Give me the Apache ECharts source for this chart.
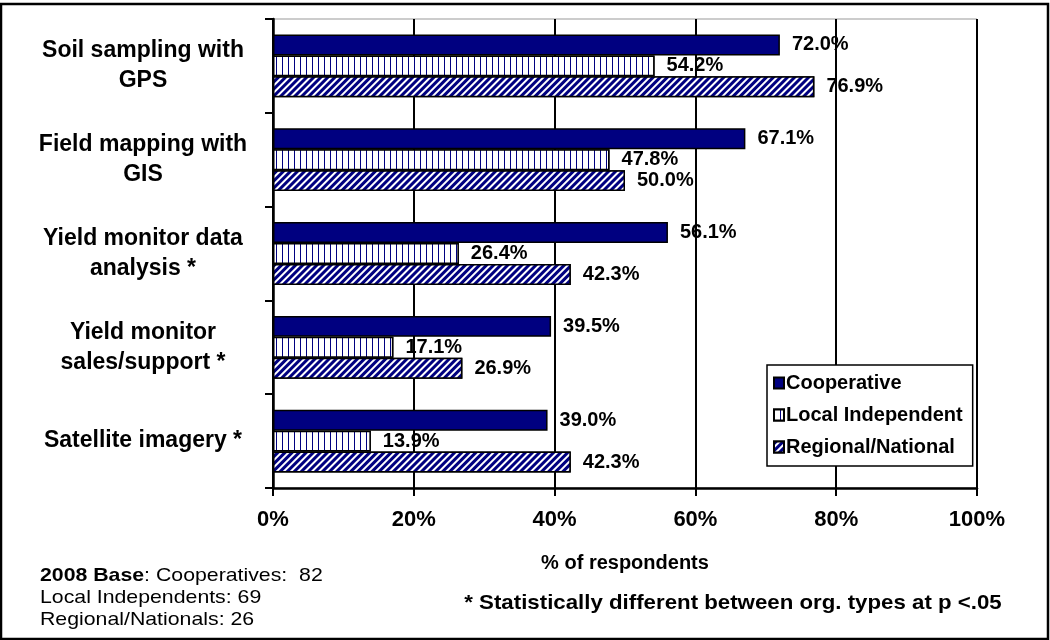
<!DOCTYPE html>
<html>
<head>
<meta charset="utf-8">
<script src="https://cdn.jsdelivr.net/npm/echarts@6/dist/echarts.min.js"></script>
<style>html,body{margin:0;padding:0;background:#fff;}#c{width:1050px;height:640px;}</style>
</head>
<body>
<div id="c"></div>
<script>
const categories = ['Soil sampling with\nGPS', 'Field mapping with\nGIS', 'Yield monitor data\nanalysis *', 'Yield monitor\nsales/support *', 'Satellite imagery *'];
const cooperative = [72.0, 67.1, 56.1, 39.5, 39.0];
const localIndependent = [54.2, 47.8, 26.4, 17.1, 13.9];
const regionalNational = [76.9, 50.0, 42.3, 26.9, 42.3];
const seriesNames = ['Cooperative', 'Local Independent', 'Regional/National'];
const xTicks = [0, 20, 40, 60, 80, 100];

const FONT = '"Liberation Sans", Arial, sans-serif';
const NAVY = '#000080';

const chart = echarts.init(document.getElementById('c'), null, {renderer: 'canvas'});

const labelOpt = {
  show: true, position: 'right', distance: 12,
  fontFamily: FONT, fontWeight: 'bold', fontSize: 20, color: '#000',
  formatter: p => p.value.toFixed(1) + '%'
};

chart.setOption({
  animation: false,
  backgroundColor: '#fff',
  grid: {left: 273, right: 73, top: 19, bottom: 152, show: true, borderColor: '#999', borderWidth: 1},
  xAxis: {
    type: 'value', min: xTicks[0], max: xTicks[xTicks.length - 1], interval: 20,
    name: '% of respondents', nameLocation: 'middle', nameGap: 65,
    nameTextStyle: {fontFamily: FONT, fontWeight: 'bold', fontSize: 20, color: '#000'},
    axisLine: {show: true, lineStyle: {color: '#000', width: 2.5}},
    axisTick: {show: true, length: 8, lineStyle: {color: '#000', width: 2}},
    axisLabel: {margin: 21, fontFamily: FONT, fontWeight: 'bold', fontSize: 22, color: '#000', formatter: '{value}%'},
    splitLine: {show: true, lineStyle: {color: '#000', width: 2}}
  },
  yAxis: {
    type: 'category', data: categories, inverse: true,
    axisLine: {show: true, lineStyle: {color: '#000', width: 2.5}},
    axisTick: {show: true, length: 8, lineStyle: {color: '#000', width: 2}},
    axisLabel: {margin: 130, align: 'center', fontFamily: FONT, fontWeight: 'bold', fontSize: 23, lineHeight: 30, color: '#000'},
    splitLine: {show: false}
  },
  legend: {
    orient: 'vertical', left: 767, top: 365,
    padding: [8, 10, 9, 6], itemGap: 12,
    backgroundColor: '#fff', borderColor: '#000', borderWidth: 1.5, borderRadius: 0,
    icon: 'rect', itemWidth: 10, itemHeight: 11,
    textStyle: {fontFamily: FONT, fontWeight: 'bold', fontSize: 20, color: '#000', padding: [0, 0, 0, -3]},
    data: seriesNames
  },
  series: [
    {
      name: seriesNames[0], type: 'bar', data: cooperative,
      barGap: '0%', barCategoryGap: '33%',
      itemStyle: {color: NAVY, borderColor: '#000', borderWidth: 1.5},
      label: labelOpt
    },
    {
      name: seriesNames[1], type: 'bar', data: localIndependent,
      barGap: '0%', barCategoryGap: '33%',
      itemStyle: {
        color: '#fff', borderColor: '#000', borderWidth: 1.5,
        decal: {symbol: 'rect', symbolSize: 1, color: NAVY, backgroundColor: '#fff', dashArrayX: [1, 5], dashArrayY: [6, 0], rotation: 0}
      },
      label: labelOpt
    },
    {
      name: seriesNames[2], type: 'bar', data: regionalNational,
      barGap: '0%', barCategoryGap: '33%',
      itemStyle: {
        color: '#fff', borderColor: '#000', borderWidth: 1.5,
        decal: {symbol: 'rect', symbolSize: 1, color: NAVY, backgroundColor: '#fff', dashArrayX: [2.4, 2], dashArrayY: [6, 0], rotation: Math.PI / 4}
      },
      label: labelOpt
    }
  ],
  graphic: [
    {type: 'rect', silent: true, z: 100, shape: {x: 1, y: 4, width: 1047, height: 635},
     style: {fill: 'none', stroke: '#000', lineWidth: 2.5}},
    {type: 'text', x: 40, y: 565, scaleX: 1.12, z: 100,
     style: {
       text: '{b|2008 Base}: Cooperatives:  82\nLocal Independents: 69\nRegional/Nationals: 26',
       fontFamily: FONT, fontSize: 19, lineHeight: 22, fill: '#000', verticalAlign: 'top',
       rich: {b: {fontFamily: FONT, fontSize: 19, fontWeight: 'bold', lineHeight: 22, fill: '#000'}}
     }},
    {type: 'text', x: 733, y: 603, scaleX: 1.06, z: 100,
     style: {text: '* Statistically different between org. types at p <.05', fontFamily: FONT, fontWeight: 'bold', fontSize: 21, fill: '#000', align: 'center', verticalAlign: 'middle'}}
  ]
});
</script>
</body>
</html>
